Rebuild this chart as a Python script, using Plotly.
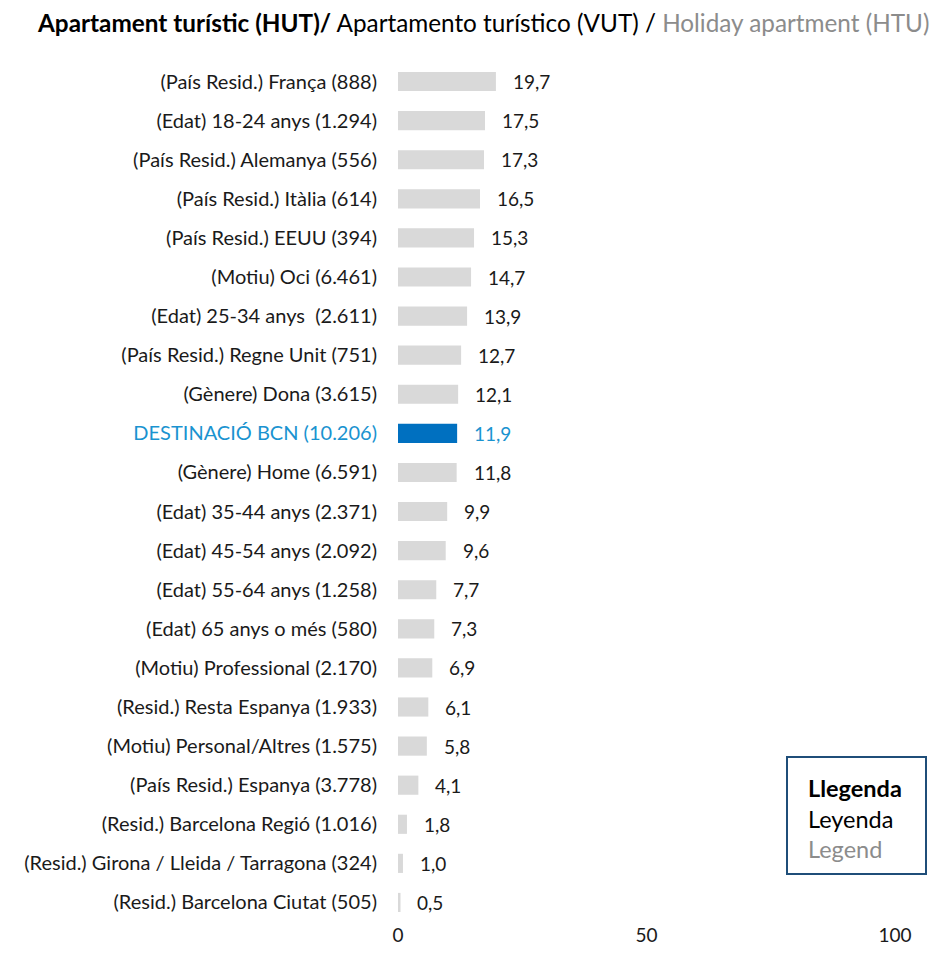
import plotly.graph_objects as go

categories = [
    "(País Resid.) França (888)",
    "(Edat) 18-24 anys (1.294)",
    "(País Resid.) Alemanya (556)",
    "(País Resid.) Itàlia (614)",
    "(País Resid.) EEUU (394)",
    "(Motiu) Oci (6.461)",
    "(Edat) 25-34 anys  (2.611)",
    "(País Resid.) Regne Unit (751)",
    "(Gènere) Dona (3.615)",
    "DESTINACIÓ BCN (10.206)",
    "(Gènere) Home (6.591)",
    "(Edat) 35-44 anys (2.371)",
    "(Edat) 45-54 anys (2.092)",
    "(Edat) 55-64 anys (1.258)",
    "(Edat) 65 anys o més (580)",
    "(Motiu) Professional (2.170)",
    "(Resid.) Resta Espanya (1.933)",
    "(Motiu) Personal/Altres (1.575)",
    "(País Resid.) Espanya (3.778)",
    "(Resid.) Barcelona Regió (1.016)",
    "(Resid.) Girona / Lleida / Tarragona (324)",
    "(Resid.) Barcelona Ciutat (505)",
]
values = [19.7, 17.5, 17.3, 16.5, 15.3, 14.7, 13.9, 12.7, 12.1, 11.9, 11.8,
          9.9, 9.6, 7.7, 7.3, 6.9, 6.1, 5.8, 4.1, 1.8, 1.0, 0.5]
highlight = "DESTINACIÓ BCN (10.206)"
x_ticks = [0, 50, 100]

FONT = "Lato"
BAR_GRAY = "#D9D9D9"
BAR_BLUE = "#0070C0"
LABEL_BLUE = "#1A93D0"
TXT = "#1a1a1a"

W, H = 943, 954
L, R, T, B = 390, 56, 54, 40
PW, PH = W - L - R, H - T - B

colors = [BAR_BLUE if c == highlight else BAR_GRAY for c in categories]
ticktext = [f"<span style='color:{LABEL_BLUE}'>{c}</span>" if c == highlight else c
            for c in categories]

fig = go.Figure()
fig.add_trace(go.Bar(
    x=values, y=categories, orientation="h",
    marker=dict(color=colors, line=dict(width=0)),
    hoverinfo="skip",
))

for c, v in zip(categories, values):
    fig.add_annotation(
        x=v, y=c, xref="x", yref="y",
        text=f"{v:.1f}".replace(".", ","),
        showarrow=False, xanchor="left", xshift=15,
        font=dict(family=FONT, size=19, color=LABEL_BLUE if c == highlight else TXT),
    )

fig.update_layout(
    width=W, height=H,
    margin=dict(l=L, r=R, t=T, b=B),
    paper_bgcolor="white", plot_bgcolor="white",
    bargap=0.51,
    showlegend=False,
    font=dict(family=FONT, size=19, color=TXT),
)
fig.update_xaxes(
    range=[0, 100], tickvals=x_ticks, ticktext=[str(t) for t in x_ticks],
    showgrid=False, zeroline=False, showline=False, ticks="",
    tickfont=dict(family=FONT, size=19, color=TXT),
)
fig.update_yaxes(
    categoryorder="array", categoryarray=categories,
    autorange="reversed",
    tickvals=categories, ticktext=ticktext,
    showgrid=False, zeroline=False, showline=False, ticks="",
    ticklabelstandoff=20,
    tickfont=dict(family=FONT, size=20, color=TXT),
)

# Title (page coords offset by 8px body margin)
fig.add_annotation(
    xref="paper", yref="paper", x=(483 - 8 - L) / PW, y=1,
    yshift=(T - (22 - 8)), xanchor="center", yanchor="middle", showarrow=False,
    text=("<b>Apartament turístic (HUT)/</b> Apartamento turístico (VUT) / "
          "<span style='color:#8C8C8C'>Holiday apartment (HTU)</span>"),
    font=dict(family=FONT, size=24.3, color="#000000"),
)

def px(xp):
    return (xp - 8 - L) / PW

def py(yp):
    return (H - B - (yp - 8)) / PH

# Legend box
fig.add_shape(
    type="rect", xref="paper", yref="paper",
    x0=px(787), x1=px(926), y0=py(874), y1=py(757),
    line=dict(color="#1F4E79", width=2), fillcolor="white",
)
fig.add_annotation(
    xref="paper", yref="paper", x=px(806), y=py(818),
    xanchor="left", yanchor="middle", showarrow=False, align="left",
    text=("<b>Llegenda</b><br>Leyenda<br>"
          "<span style='color:#8C8C8C'>Legend</span>"),
    font=dict(family=FONT, size=23.5, color="#000000"),
)

fig.write_html("out.html")
